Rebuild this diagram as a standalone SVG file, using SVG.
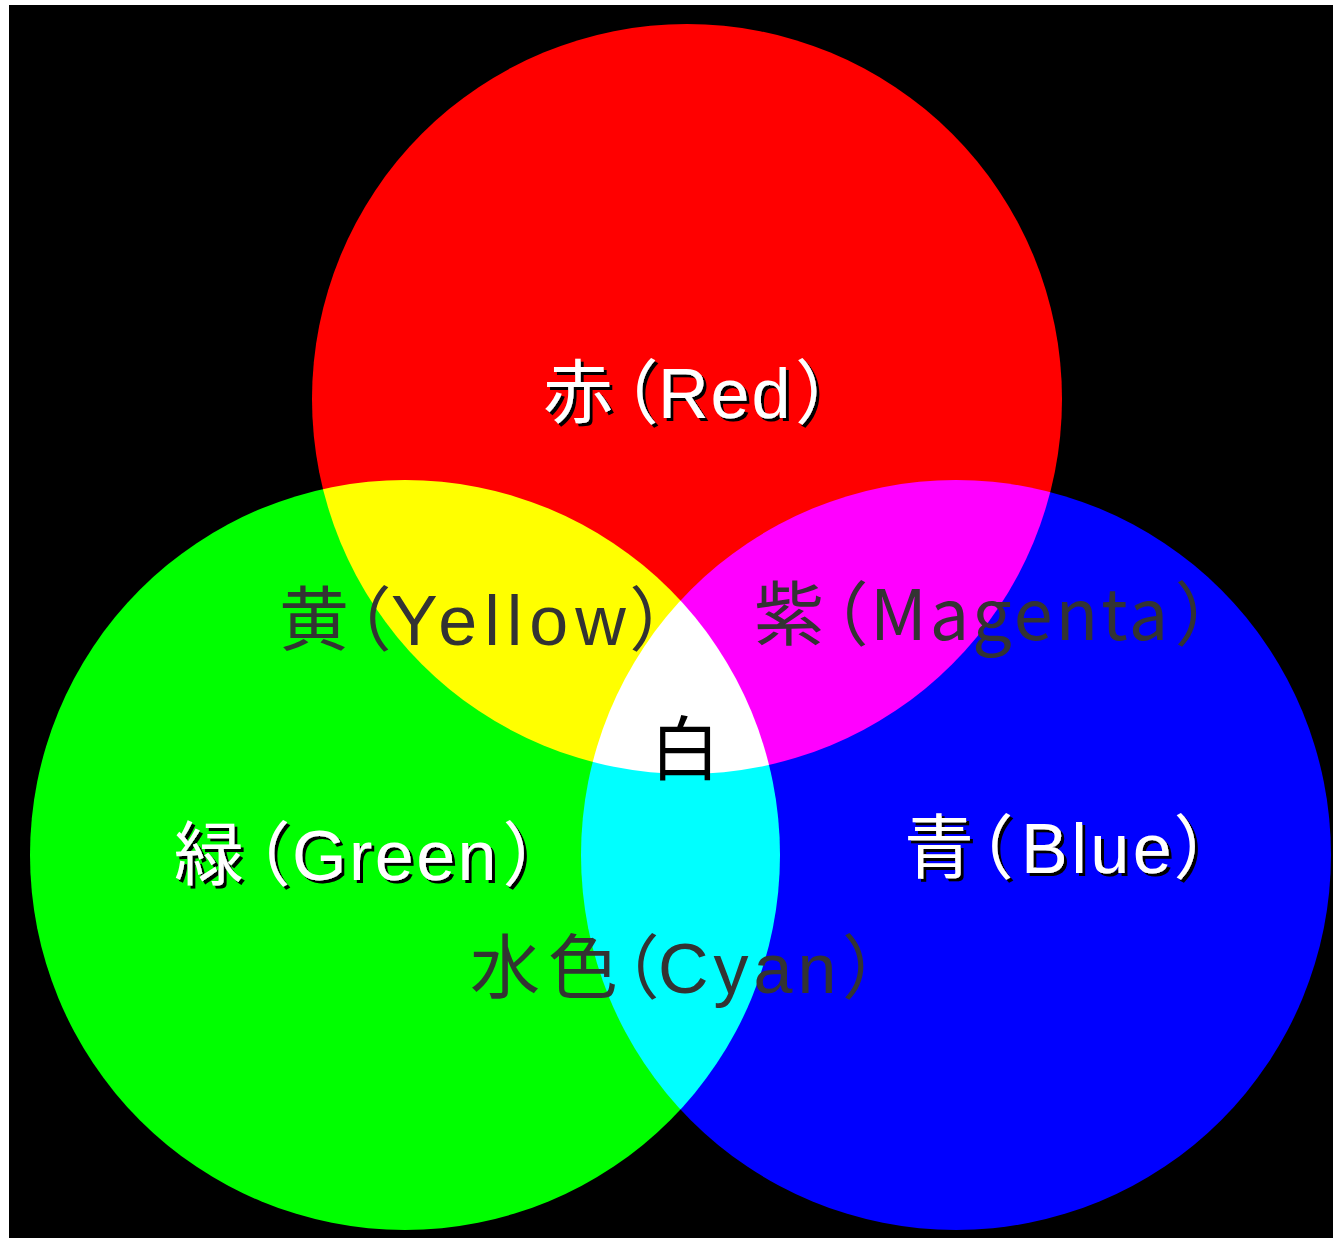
<svg xmlns="http://www.w3.org/2000/svg" width="1333" height="1238" viewBox="0 0 1333 1238">
<style>
.c{mix-blend-mode:screen}
.lbl{font-family:"Liberation Sans","Noto Sans CJK JP",sans-serif;font-size:70px;font-feature-settings:"palt"}
.w{fill:#fff;filter:url(#shadow)}
.d{fill:#333}
</style>
<defs>
<filter id="shadow" x="-10%" y="-20%" width="120%" height="150%">
<feDropShadow dx="3" dy="3" stdDeviation="0" flood-color="#000" flood-opacity="1"/>
</filter>
</defs>
<rect x="0" y="0" width="1333" height="1238" fill="#fff"/>
<rect x="9" y="5" width="1324" height="1233" fill="#000"/>
<g id="circles" style="isolation:isolate">
<circle id="red" class="c" cx="687" cy="399" r="375" fill="#f00"/>
<circle id="green" class="c" cx="405" cy="855" r="375" fill="#0f0"/>
<circle id="blue" class="c" cx="956" cy="855" r="375" fill="#00f"/>
</g>
<g id="label-red" class="lbl"><text class="w" x="543" y="418">赤<tspan dx="8">（</tspan><tspan dx="2" style="letter-spacing:2px">Red</tspan><tspan dx="5">）</tspan></text></g>
<g id="label-yellow" class="lbl"><text class="d" x="279" y="645">黄<tspan dx="5">（</tspan><tspan dx="2" style="letter-spacing:7px">Yellow</tspan><tspan dx="-1">）</tspan></text></g>
<g id="label-magenta" class="lbl"><text class="d" x="754" y="640" style="font-family:'Noto Sans CJK JP',sans-serif">紫<tspan dx="7">（</tspan><tspan dx="4" style="letter-spacing:3px">Magenta</tspan><tspan dx="6">）</tspan></text></g>
<g id="label-white" class="lbl"><text fill="#000" x="650" y="775">白</text></g>
<g id="label-green" class="lbl"><text class="w" x="174" y="880">緑<tspan dx="9">（</tspan><tspan dx="4" style="letter-spacing:2.5px">Green</tspan><tspan dx="6">）</tspan></text></g>
<g id="label-blue" class="lbl"><text class="w" x="904" y="873">青<tspan dx="2">（</tspan><tspan dx="10" style="letter-spacing:3.5px">Blue</tspan><tspan dx="1">）</tspan></text></g>
<g id="label-cyan" class="lbl"><text class="d" x="470" y="993">水<tspan dx="8">色</tspan><tspan dx="4">（</tspan><tspan dx="1" style="letter-spacing:5px">Cyan</tspan><tspan dx="3">）</tspan></text></g>
</svg>
